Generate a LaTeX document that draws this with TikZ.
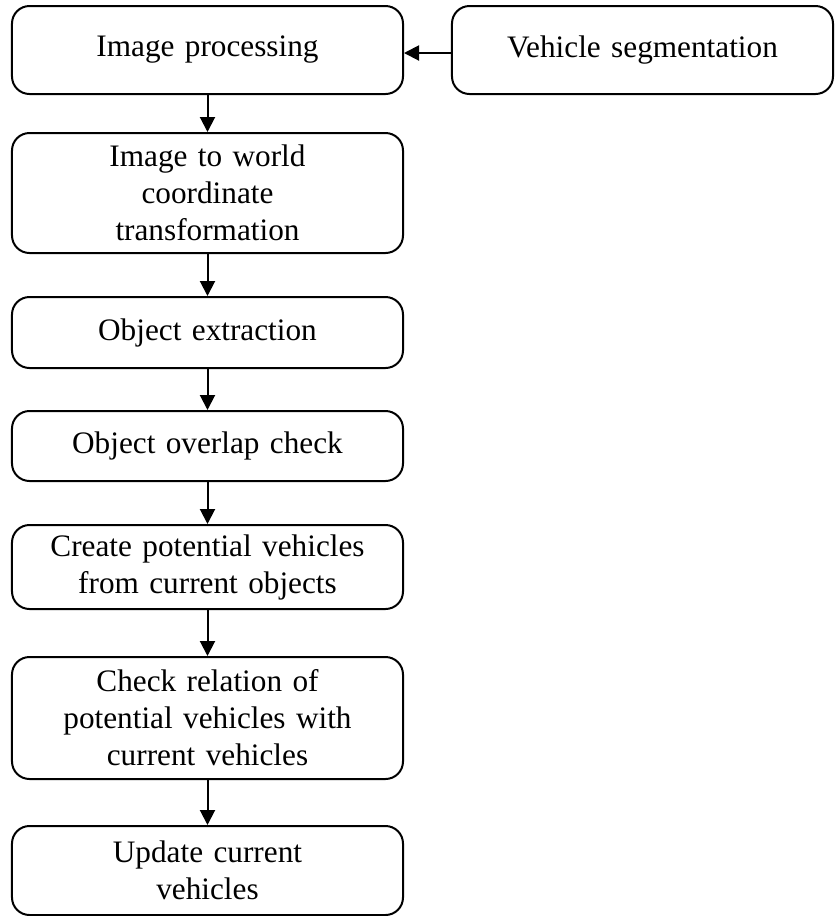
\documentclass[tikz,border=0pt]{standalone}
\usepackage{fontspec}
\setmainfont{Liberation Serif}
\usetikzlibrary{positioning, arrows.meta}
\tikzset{>={Triangle[length=6pt, width=6pt]}}
\tikzset{stage/.style = {draw, line width = 0.8pt, rounded corners = 7pt, align = center, inner sep = 0pt, text width = 150pt, minimum width = 156.4pt, font = \fontsize{12.5}{14.8}\selectfont}}

\begin{document}
\begin{tikzpicture}[x = 0.4pt, y = -0.4pt]
\useasboundingbox (0,0) rectangle (835,916);
\node[stage, minimum height = 35.2pt] (improc) at (207.5, 50) {Image processing};
\node[stage, minimum height = 35.2pt, minimum width = 152.4pt, text width = 146pt] (vseg) at (642.5, 50) {Vehicle segmentation};
\node[stage, minimum height = 48pt] (coord) at (207.5, 193) {Image to world\\ coordinate\\ transformation};
\node[stage, minimum height = 28.4pt] (extract) at (207.5, 332.5) {Object extraction};
\node[stage, minimum height = 28pt] (overlap) at (207.5, 446) {Object overlap check};
\node[stage, minimum height = 33.6pt] (potential) at (207.5, 567) {Create potential vehicles\\ from current objects};
\node[stage, minimum height = 48.8pt] (relation) at (207.5, 718) {Check relation of\\ potential vehicles with\\ current vehicles};
\node[stage, minimum height = 35.6pt] (update) at (207.5, 870.5) {Update current\\ vehicles};

\draw[->, line width = 0.8pt] ([yshift = -1.2pt]vseg.west) -- ([yshift = -1.2pt]improc.east);
\draw[->, line width = 0.8pt] (improc) -- (coord);
\draw[->, line width = 0.8pt] (coord) -- (extract);
\draw[->, line width = 0.8pt] (extract) -- (overlap);
\draw[->, line width = 0.8pt] (overlap) -- (potential);
\draw[->, line width = 0.8pt] (potential) -- (relation);
\draw[->, line width = 0.8pt] (relation) -- (update);
\end{tikzpicture}
\end{document}
